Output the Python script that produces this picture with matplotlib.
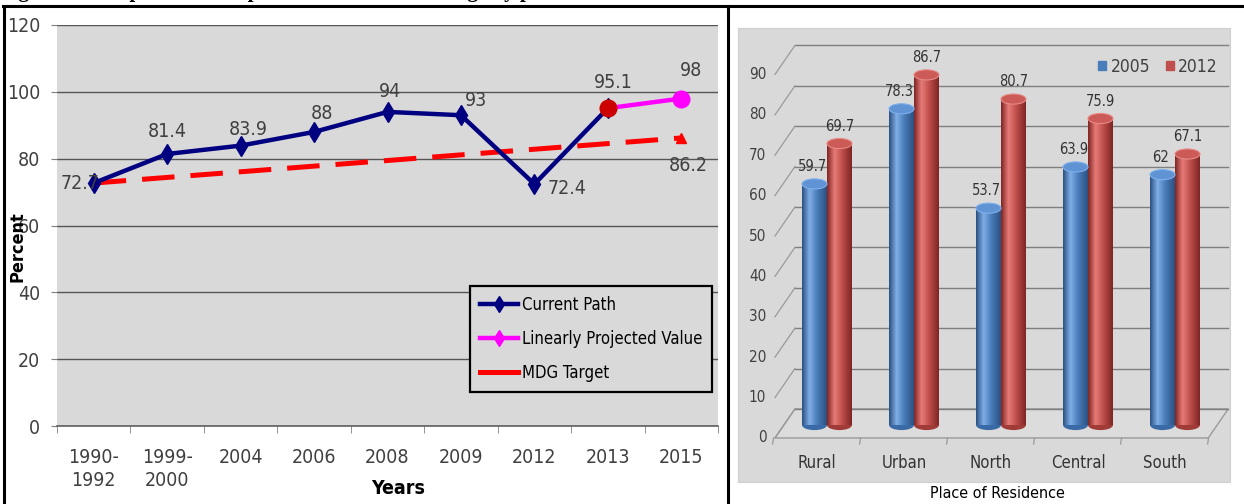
import numpy as np
import matplotlib
matplotlib.use("Agg")
import matplotlib.pyplot as plt
from matplotlib import font_manager
from matplotlib.lines import Line2D
from matplotlib.patches import Ellipse, Polygon, Patch
from matplotlib.colors import to_rgb

# ---------------- data ----------------
years = ["1990-\n1992", "1999-\n2000", "2004", "2006", "2008", "2009", "2012", "2013", "2015"]
current_path = [72.7, 81.4, 83.9, 88, 94, 93, 72.4, 95.1]          # 1990-1992 .. 2013
projected = [95.1, 98]                                            # 2013 .. 2015
mdg_target = [72.7, 86.2]                                         # 1990-1992 and 2015

places = ["Rural", "Urban", "North", "Central", "South"]
cov_2005 = [59.7, 78.3, 53.7, 63.9, 62]
cov_2012 = [69.7, 86.7, 80.7, 75.9, 67.1]
right_ticks = [0, 10, 20, 30, 40, 50, 60, 70, 80, 90]

# ---------------- fonts ----------------
cond = [f for f in font_manager.fontManager.ttflist
        if "condensed" in f.fname.lower() or "narrow" in f.fname.lower()]
cond.sort(key=lambda f: f.fname)

NARROW_FP = None
for f in cond:
    fn = f.fname.lower()
    if "bold" not in fn and "oblique" not in fn and "italic" not in fn and "light" not in fn:
        NARROW_FP = f.fname
        break
NARROW_BOLD = [f.fname for f in cond if "bold" in f.fname.lower()
               and "oblique" not in f.fname.lower() and "italic" not in f.fname.lower()]


def nfont(size, weight="normal"):
    if weight == "bold" and NARROW_BOLD:
        return font_manager.FontProperties(fname=NARROW_BOLD[0], size=size)
    if weight == "normal" and NARROW_FP is not None:
        return font_manager.FontProperties(fname=NARROW_FP, size=size)
    return font_manager.FontProperties(family="DejaVu Sans", size=size * 0.85, weight=weight)


SERIF = ["Liberation Serif", "DejaVu Serif"]
W, H = 1244, 504


def box(x0, y0, x1, y1):
    return [x0 / W, 1 - y1 / H, (x1 - x0) / W, (y1 - y0) / H]


fig = plt.figure(figsize=(W / 100, H / 100), dpi=100)
fig.patch.set_facecolor("white")

# caption above the table (runs off the top edge)
fig.text(0.5 / W, 1 + 2.5 / H, "Figure 5: Comparison of improved sanitation coverage by place of residence",
         family=SERIF, fontweight="bold", fontsize=15, ha="left", va="baseline", color="black")

# table borders
for (xa, ya), (xb, yb) in [((3, 6), (1244, 6)), ((4, 6), (4, 504)), ((728, 6), (728, 504))]:
    fig.add_artist(Line2D([xa / W, xb / W], [1 - ya / H, 1 - yb / H], color="black", lw=2.2,
                          transform=fig.transFigure))

# ================= left: line chart =================
ax = fig.add_axes(box(57, 25, 718, 426))
ax.set_facecolor("#d9d9d9")
ax.set_xlim(-0.5, 8.5)
ax.set_ylim(0, 120)
ax.set_yticks(range(0, 121, 20))
ax.set_xticks(range(len(years)))
ax.set_xticklabels(years, fontproperties=nfont(14), color="#404040", linespacing=1.25)
ax.set_yticklabels([str(v) for v in range(0, 121, 20)], fontproperties=nfont(14), color="#404040")
ax.set_xticks(np.arange(-0.5, 9, 1), minor=True)
ax.tick_params(axis="x", which="major", length=0, pad=16)
ax.tick_params(axis="x", which="minor", length=5, color="#808080")
ax.tick_params(axis="y", length=4, color="#808080", pad=8)
ax.grid(axis="y", color="#555555", lw=1.0)
ax.set_axisbelow(True)
for s in ["top", "right", "left"]:
    ax.spines[s].set_visible(False)
ax.spines["bottom"].set_color("#606060")
ax.spines["bottom"].set_linewidth(1.2)

xs_cur = np.arange(len(current_path))
xs_proj = np.arange(len(current_path) - 1, len(current_path) - 1 + len(projected))
xs_mdg = [0, len(years) - 1]

ax.plot(xs_mdg, mdg_target, color="#ff0000", lw=3.6, dashes=(6.5, 3.2), zorder=3)
ax.plot(xs_mdg[-1:], mdg_target[-1:], marker="^", color="#ff0000", ms=7, zorder=3, ls="none")
ax.plot(xs_cur, current_path, color="#000080", lw=3.2, marker="d", ms=10, zorder=4)
ax.plot(xs_proj, projected, color="#ff00ff", lw=3.2, marker="o", ms=12, markevery=[1], zorder=4)
ax.plot(xs_proj[:1], projected[:1], marker="o", color="#cc0000", ms=12, ls="none", zorder=5)

lab_kw = dict(textcoords="offset pixels", ha="center", va="center",
              fontproperties=nfont(14), color="#404040", zorder=6)
cur_offsets = [(-14, 0), (0, 22), (8, 16), (8, 18), (2, 20), (15, 15), (33, -4), (5, 26)]
for x, v, off in zip(xs_cur, current_path, cur_offsets):
    ax.annotate(f"{v:g}", (x, v), xytext=off, **lab_kw)
ax.annotate(f"{projected[-1]:g}", (xs_proj[-1], projected[-1]), xytext=(10, 28), **lab_kw)
ax.annotate(f"{mdg_target[-1]:g}", (xs_mdg[-1], mdg_target[-1]), xytext=(7, -28), **lab_kw)

handles = [
    Line2D([], [], color="#000080", lw=3.2, marker="d", ms=8),
    Line2D([], [], color="#ff00ff", lw=3.2, marker="d", ms=8),
    Line2D([], [], color="#ff0000", lw=3.6),
]
leg = ax.legend(handles, ["Current Path", "Linearly Projected Value", "MDG Target"],
                loc="upper left", bbox_to_anchor=(470 / W, 1 - 286 / H), bbox_transform=fig.transFigure,
                prop=nfont(12), frameon=True, fancybox=False,
                facecolor="#d9d9d9", edgecolor="black", framealpha=1, borderaxespad=0,
                handlelength=2.3, labelspacing=0.95, handletextpad=0.2, borderpad=0.6)
leg.get_frame().set_linewidth(1.6)

fig.text(17 / W, 1 - 247 / H, "Percent", rotation=90, ha="center", va="center",
         fontproperties=nfont(13, "bold"))
fig.text(398 / W, 1 - 489 / H, "Years", ha="center", va="center",
         fontproperties=nfont(14, "bold"))

# ================= right: cylinder column chart =================
axr = fig.add_axes(box(738, 28, 1230, 482))
axr.set_facecolor("#d9d9d9")
for s in axr.spines.values():
    s.set_color("#cfcfcf")
axr.set_xticks([])
axr.set_yticks([])

bw = 0.287               # column width (category units)
eh = 2.5                 # ellipse height (value units)
dfx, dfy = -0.115, -3.2  # front-plane shift
dbx, dby = 0.115, 4.0    # back-wall shift
x_left, x_right = -0.483, 4.497

floor = Polygon([(x_left + dfx, dfy), (x_right + dfx, dfy), (x_right + dbx, dby), (x_left + dbx, dby)],
                closed=True, facecolor="#dcdcdc", edgecolor="#9a9a9a", lw=1.0, zorder=1)
axr.add_patch(floor)

for v in right_ticks:
    axr.plot([x_left + dbx, x_right + dbx], [v + dby, v + dby], color="#7f7f7f", lw=1.0, zorder=1)
    axr.plot([x_left + dfx, x_left + dbx], [v + dfy, v + dby], color="#9a9a9a", lw=0.9, zorder=1)
    axr.text(x_left + dfx - 0.1, v + dfy, str(v), ha="right", va="center",
             fontproperties=nfont(11), color="#404040")
for i in range(len(places) + 1):
    xb = i - 0.5 + dfx
    axr.plot([xb, xb - 0.01], [dfy, dfy - 1.5], color="#9a9a9a", lw=0.9, zorder=1)


def shade(base, dark, light):
    stops = [0.0, 0.3, 0.6, 1.0]
    cols = [to_rgb(dark), to_rgb(light), to_rgb(base), to_rgb(dark)]
    t = np.linspace(0, 1, 64)
    arr = np.stack([np.interp(t, stops, [c[k] for c in cols]) for k in range(3)], axis=-1)
    return arr[None, :, :]


blue_grad = shade("#4a7ebb", "#2b5082", "#80aee6")
red_grad = shade("#c0504d", "#7e2523", "#e77b77")


def cylinder(x0, h, grad, top_face, top_edge, bottom):
    axr.add_patch(Ellipse((x0 + bw / 2, 0), bw, eh, facecolor=bottom, edgecolor="none", zorder=3))
    axr.imshow(grad, extent=(x0, x0 + bw, 0, h), aspect="auto", interpolation="bilinear", zorder=3.5)
    axr.add_patch(Ellipse((x0 + bw / 2, h), bw, eh, facecolor=top_face, edgecolor=top_edge, lw=0.8, zorder=4))


for i, (b, r) in enumerate(zip(cov_2005, cov_2012)):
    cylinder(i - bw, b, blue_grad, "#5f93d4", "#7fb0ec", "#3a6aa6")
    cylinder(i, r, red_grad, "#cc5a56", "#e88a86", "#a03b38")
    axr.text(i - bw / 2 - 0.02, b + 4.3, f"{b:g}", ha="center", va="center",
             fontproperties=nfont(10.5), color="#333333", zorder=6)
    axr.text(i + bw / 2, r + 4.3, f"{r:g}", ha="center", va="center",
             fontproperties=nfont(10.5), color="#333333", zorder=6)
    axr.text(i + dfx, -9.4, places[i], ha="center", va="center",
             fontproperties=nfont(12), color="#333333")

axr.set_xlim(-1.023, 4.632)
axr.set_ylim(-14.1, 98.3)

rleg = axr.legend([Patch(color="#4a7ebb"), Patch(color="#c0504d")], ["2005", "2012"], ncol=2,
                  loc="center", bbox_to_anchor=(1158 / W, 1 - 67 / H), bbox_transform=fig.transFigure,
                  frameon=False, handlelength=0.45, handleheight=0.45, handletextpad=0.25,
                  columnspacing=0.9, prop=nfont(12.5))
for t in rleg.get_texts():
    t.set_color("#404040")

fig.text(997 / W, 1 - 493 / H, "Place of Residence", ha="center", va="center",
         fontproperties=nfont(11.5), color="black")

fig.savefig("out.png", dpi=100, facecolor="white")
